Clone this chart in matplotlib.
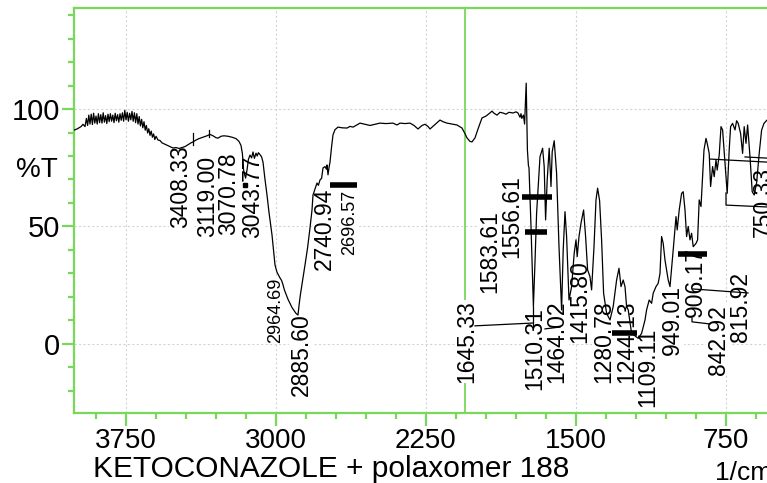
import matplotlib
matplotlib.use('Agg')
import matplotlib.pyplot as plt
from matplotlib.ticker import MultipleLocator

plt.rcParams['font.family'] = 'Liberation Sans'

# spectrum (1/cm, %T)
wavenumber = [
    4010, 3995, 3985, 3975, 3965, 3955, 3948, 3942, 3936, 3930, 3924, 3918,
    3912, 3906, 3900, 3894, 3888, 3882, 3876, 3870, 3864, 3858, 3852, 3846,
    3840, 3834, 3828, 3822, 3816, 3810, 3804, 3798, 3792, 3786, 3780, 3774,
    3768, 3762, 3756, 3750, 3744, 3738, 3732, 3726, 3720, 3714, 3708, 3702,
    3696, 3690, 3684, 3678, 3672, 3666, 3660, 3654, 3648, 3642, 3636, 3630,
    3624, 3618, 3612, 3606, 3600, 3590, 3580, 3570, 3560, 3545, 3530, 3515,
    3500, 3485, 3470, 3455, 3440, 3425, 3415, 3400, 3385, 3365, 3345, 3330,
    3315, 3300, 3290, 3275, 3260, 3240, 3220, 3200, 3185, 3175, 3168, 3162,
    3158, 3152, 3145, 3138, 3130, 3122, 3115, 3108, 3100, 3094, 3088, 3080,
    3072, 3065, 3055, 3045, 3035, 3020, 3010, 3005, 2995, 2980, 2972, 2966,
    2958, 2940, 2920, 2900, 2890, 2884, 2878, 2865, 2855, 2842, 2830, 2820,
    2815, 2805, 2795, 2788, 2780, 2772, 2765, 2755, 2748, 2745, 2740, 2735,
    2730, 2722, 2715, 2705, 2690, 2670, 2645, 2630, 2615, 2600, 2580, 2560,
    2530, 2510, 2480, 2450, 2415, 2395, 2380, 2355, 2330, 2310, 2290, 2270,
    2255, 2240, 2230, 2210, 2180, 2165, 2145, 2120, 2095, 2070, 2055, 2045,
    2030, 2020, 2005, 1990, 1970, 1950, 1935, 1920, 1910, 1895, 1880, 1865,
    1850, 1835, 1815, 1800, 1790, 1780, 1775, 1771, 1763, 1757, 1749, 1743,
    1738, 1735, 1725, 1713, 1705, 1697, 1680, 1667, 1659, 1652, 1644, 1634,
    1625, 1619, 1609, 1597, 1585, 1572, 1564, 1555, 1547, 1535, 1522, 1509,
    1500, 1494, 1485, 1475, 1462, 1452, 1442, 1430, 1422, 1410, 1400, 1392,
    1382, 1372, 1362, 1347, 1330, 1314, 1297, 1285, 1275, 1264, 1255, 1247,
    1239, 1222, 1189, 1172, 1155, 1147, 1134, 1122, 1114, 1100, 1089, 1080,
    1072, 1064, 1055, 1039, 1030, 1014, 1000, 994, 984, 972, 964, 955,
    947, 939, 930, 922, 914, 900, 892, 884, 875, 867, 860, 850,
    844, 834, 827, 817, 809, 800, 794, 784, 775, 767, 755, 744,
    734, 727, 717, 705, 697, 689, 677, 667, 659, 650, 642, 630,
    619, 609, 597, 584, 572, 560, 545, 535,
]
transmittance = [
    91.0, 91.5, 92.0, 92.5, 93.5, 92.5, 96.0, 93.0, 97.4, 93.6, 97.8, 93.4,
    98.2, 94.0, 97.0, 93.6, 98.0, 94.2, 97.6, 94.0, 98.4, 94.4, 97.2, 93.8,
    97.8, 94.6, 98.0, 94.8, 97.4, 94.2, 98.2, 95.0, 97.6, 94.4, 98.0, 95.2,
    98.4, 94.8, 99.4, 95.4, 98.6, 94.8, 98.2, 95.4, 99.0, 94.8, 98.4, 94.2,
    98.0, 93.6, 96.8, 92.8, 95.6, 92.0, 94.6, 91.0, 93.0, 89.8, 91.6, 88.8,
    90.6, 88.0, 89.4, 87.0, 88.4, 86.8, 86.6, 85.6, 85.2, 84.6, 84.0, 83.4,
    83.6, 83.2, 83.6, 84.0, 84.8, 85.6, 86.0, 86.8, 87.4, 88.0, 88.6, 89.2,
    88.6, 87.8, 87.6, 88.4, 88.6, 88.4, 88.0, 87.4, 86.2, 84.5, 81.0, 74.0,
    72.5, 70.6, 74.0, 78.5, 80.4, 79.2, 81.7, 79.0, 81.2, 80.0, 81.4, 80.6,
    79.6, 77.4, 70.0, 63.4, 56.0, 46.4, 38.0, 33.6, 30.5, 28.1, 27.0, 25.5,
    23.0, 19.0, 15.5, 13.0, 12.3, 17.0, 21.0, 28.0, 33.6, 41.0, 49.4, 57.0,
    63.4, 66.0, 68.5, 67.5, 69.8, 70.5, 74.9, 75.5, 74.4, 76.2, 72.0, 75.0,
    77.4, 84.0, 89.0, 91.2, 92.3, 92.0, 91.9, 92.6, 92.3, 93.0, 94.0, 93.6,
    93.0, 93.4, 94.0, 93.8, 94.0, 93.2, 94.0, 93.8, 94.0, 93.0, 91.5, 93.0,
    93.5, 92.6, 91.5, 93.0, 95.3, 94.6, 94.0, 93.6, 93.2, 91.9, 89.5, 87.7,
    86.2, 86.0, 87.7, 91.5, 96.2, 97.0, 98.0, 99.1, 98.2, 97.4, 98.6, 98.3,
    97.8, 98.6, 98.3, 98.8, 98.3, 96.5, 98.0, 96.0, 97.4, 93.6, 111.0, 82.6,
    76.0, 75.0, 50.0, 15.9, 35.0, 55.6, 79.7, 83.3, 75.5, 52.8, 69.8, 83.3,
    67.0, 81.8, 86.5, 72.6, 41.4, 14.5, 40.0, 56.3, 45.7, 18.7, 24.4, 38.6,
    44.3, 37.2, 45.7, 51.4, 57.0, 45.7, 31.5, 28.6, 23.0, 41.4, 61.3, 66.3,
    61.0, 44.3, 21.6, 13.0, 10.2, 15.9, 27.2, 32.2, 24.4, 27.2, 24.4, 15.9,
    14.5, 4.5, 2.4, 4.5, 10.2, 14.5, 18.7, 17.3, 21.6, 24.4, 25.8, 30.0,
    45.7, 42.8, 35.7, 27.2, 24.4, 40.0, 54.2, 48.5, 57.0, 64.1, 64.8, 57.0,
    45.7, 50.0, 44.3, 47.1, 41.4, 42.8, 44.3, 61.3, 58.5, 71.2, 82.6, 87.5,
    85.4, 81.1, 67.0, 75.5, 71.2, 78.3, 74.0, 80.4, 92.5, 91.1, 76.9, 64.1,
    82.6, 92.5, 93.9, 91.1, 95.0, 93.9, 89.6, 81.1, 92.5, 85.4, 93.2, 79.7,
    64.8, 63.4, 68.5, 81.1, 91.0, 93.9, 95.3, 94.0,
]

# peak labels: text, wavenumber at label centre, %T at label top
peak_text = ['3408.33', '3119.00', '3070.78', '3043.77', '2964.69', '2885.60',
             '2740.94', '2696.57', '1645.33', '1583.61', '1556.61', '1510.31',
             '1464.02', '1415.80', '1280.78', '1244.13', '1109.11', '949.01',
             '906.17', '842.92', '815.92', '750.33']
peak_wn = [3475, 3340, 3235, 3115, 3002, 2875, 2760, 2630, 2045, 1930, 1820,
           1705, 1595, 1480, 1360, 1245, 1140, 1020, 905, 790, 675, 565]
peak_top = [84.5, 80.0, 81.7, 80.4, 28.1, 13.2, 66.4, 65.5, 18.7, 57.0, 71.9,
            15.7, 18.7, 35.7, 18.7, 18.7, 6.8, 25.1, 41.3, 16.6, 30.6, 75.3]
small_labels = ['2964.69', '2696.57']

# thick peak-marker bars (from wn, to wn, %T)
bar_from = [2730, 1770, 1755, 1320, 990]
bar_to = [2595, 1620, 1645, 1195, 845]
bar_t = [67.7, 62.6, 47.7, 4.7, 38.3]

# thin leader lines
leaders = [
    ([2005, 1715], [7.7, 8.9]),
    ([1715, 1715], [15.7, 7.2]),
    ([1655, 1580], [6.4, 7.2]),
    ([915, 640], [23.4, 21.7]),
    ([920, 920, 830], [11.0, 9.4, 8.5]),
    ([750, 750, 545], [64.3, 59.1, 58.3]),
    ([830, 545], [78.7, 77.4]),
    ([655, 545], [79.6, 79.1]),
    ([3415, 3415], [89.8, 84.7]),
    ([3335, 3335], [91.0, 88.0]),
]

green = '#78d85a'

fig = plt.figure(figsize=(7.67, 4.83), dpi=100)
ax = fig.add_axes([74 / 767, 70 / 483, 693 / 767, 405 / 483])

ax.plot(wavenumber, transmittance, color='black', lw=0.9, zorder=5)

for x0, x1, t in zip(bar_from, bar_to, bar_t):
    ax.plot([x0, x1], [t, t], color='black', lw=4, solid_capstyle='butt', zorder=6)
for xs, ys in leaders:
    ax.plot(xs, ys, color='black', lw=0.9, zorder=6)
ax.plot([3155], [67.7], 's', color='black', ms=2.5, zorder=6)

# cursor line
ax.axvline(2055, color=green, lw=1.3, zorder=2)

for txt, w, t in zip(peak_text, peak_wn, peak_top):
    fs = 13 if txt in small_labels else 16.5
    ax.text(w, t, txt, rotation=90, ha='center', va='top', fontsize=fs,
            zorder=4, clip_on=False,
            bbox=dict(facecolor='white', edgecolor='none', pad=0.3))

ax.set_xlim(4010, 545)
ax.set_ylim(-29.4, 143)
ax.xaxis.set_major_locator(MultipleLocator(750))
ax.xaxis.set_minor_locator(MultipleLocator(150))
ax.yaxis.set_major_locator(MultipleLocator(50))
ax.yaxis.set_minor_locator(MultipleLocator(10))

ax.grid(True, which='major', color='#cfd6d8', linestyle=(0, (2, 2)), lw=0.8, zorder=1)
ax.set_axisbelow(True)

for side in ['left', 'top', 'bottom']:
    ax.spines[side].set_color(green)
    ax.spines[side].set_linewidth(1.6)
ax.spines['right'].set_visible(False)

ax.tick_params(which='both', direction='out', color=green, width=1.6,
               labelcolor='black')
ax.tick_params(which='major', length=9)
ax.tick_params(which='minor', length=4.5)
ax.tick_params(axis='y', pad=1, labelsize=21)
ax.tick_params(axis='x', pad=2, labelsize=20)

fig.text(37 / 767, 1 - 170 / 483, '%T', ha='center', va='center', fontsize=20)
fig.text(93 / 767, 1 - 477 / 483, 'KETOCONAZOLE + polaxomer 188', ha='left',
         va='baseline', fontsize=21.5)
fig.text(715 / 767, 1 - 480 / 483, '1/cm', ha='left', va='baseline', fontsize=19)

fig.savefig('out.png', dpi=100)
